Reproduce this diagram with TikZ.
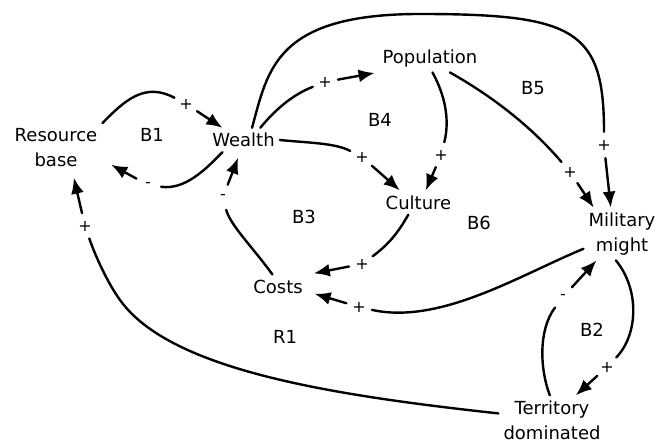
\documentclass[tikz,border=0pt]{standalone}
\usepackage{fontspec}
\setmainfont{DejaVu Sans}
\usetikzlibrary{arrows.meta}
\begin{document}
\begin{tikzpicture}[x=1pt,y=-1pt,
  var/.style={font=\fontsize{18}{25}\selectfont, align=center, inner sep=5pt},
  looplabel/.style={font=\fontsize{18}{25}\selectfont, inner sep=0pt},
  sign/.style={circle, inner sep=0pt, minimum size=26pt, font=\fontsize{16}{16}\selectfont},
  link/.style={line width=2.4pt, line cap=round},
  arr/.style={link, -{Latex[length=16pt,width=13pt]}}
]
\useasboundingbox (0,0) rectangle (655,443);

% variables
\node[var] (rb)   at (56,147.5)  {Resource\\base};
\node[var] (w)    at (243.5,140) {Wealth};
\node[var] (pop)  at (430,58.5)  {Population};
\node[var] (cul)  at (418.5,202.5) {Culture};
\node[var] (mil)  at (622,234)   {Military\\might};
\node[var] (cost) at (278,286.5) {Costs};
\node[var] (ter)  at (552,420)   {Territory\\dominated};

% loop labels
\node[looplabel] (b1) at (152,135) {B1};
\node[looplabel] (b4) at (380,120) {B4};
\node[looplabel] (b5) at (533,88)  {B5};
\node[looplabel] (b3) at (304,217) {B3};
\node[looplabel] (b6) at (479,223) {B6};
\node[looplabel] (r1) at (285,337) {R1};
\node[looplabel] (b2) at (592,330) {B2};

% polarity signs
\node[sign] (s1)  at (186,104) {+};
\node[sign] (s2)  at (148,185) {-};
\node[sign] (s3)  at (223,197) {-};
\node[sign] (s4)  at (325,82)  {+};
\node[sign] (s5)  at (604,145) {+};
\node[sign] (s6)  at (362,157) {+};
\node[sign] (s7)  at (441,155) {+};
\node[sign] (s8)  at (570,172) {+};
\node[sign] (s9)  at (362,264) {+};
\node[sign] (s10) at (359,307) {+};
\node[sign] (s11) at (607,367) {+};
\node[sign] (s12) at (563,297) {-};
\node[sign] (s13) at (85,226)  {+};

% Resource base -> Wealth
\draw[link] (rb.north east) .. controls (125,100) and (145,82) .. (s1);
\draw[arr] (s1) -- (w.150);
% Wealth -> Resource base
\draw[link] (w.210) .. controls (205,170) and (185,190) .. (s2);
\draw[arr, shorten >=10pt] (s2) -- (rb.-15);
% Costs -> Wealth
\draw[link] (cost.115) .. controls (255,250) and (230,225) .. (s3);
\draw[arr, shorten >=6pt] (s3) -- (w.255);
% Wealth -> Population
\draw[link] (w.36) .. controls (275,110) and (292,95) .. (s4);
\draw[arr, shorten >=3pt] (s4) -- (pop.south west);
% Wealth -> Military might (outer arc)
\draw[link] (w.55) .. controls (268,70) and (275,14) .. (420,14)
            .. controls (575,14) and (604,30) .. (s5);
\draw[arr] (s5) -- (mil.113);
% Wealth -> Culture
\draw[link] (w.east) .. controls (310,143) and (335,143) .. (s6);
\draw[arr] (s6) -- (cul.147);
% Population -> Culture
\draw[link] (pop.-80) .. controls (445,95) and (450,120) .. (s7);
\draw[arr] (s7) -- (cul.59);
% Population -> Military might
\draw[link] (pop.-35) .. controls (490,95) and (530,125) .. (s8);
\draw[arr] (s8) -- (mil.137);
% Culture -> Costs
\draw[link] (cul.230) .. controls (398,233) and (388,245) .. (s9);
\draw[arr, shorten >=6pt] (s9) -- (cost.north east);
% Military might -> Costs
\draw[link] (mil.201) .. controls (520,275) and (440,325) .. (s10);
\draw[arr, shorten >=7pt] (s10) -- (cost.-10);
% Military might -> Territory dominated
\draw[link] (mil.-103) .. controls (640,290) and (638,335) .. (s11);
\draw[arr] (s11) -- (ter.46);
% Territory dominated -> Military might
\draw[link] (ter.95) .. controls (540,370) and (538,330) .. (s12);
\draw[arr] (s12) -- (mil.226);
% Territory dominated -> Resource base
\draw[link] (ter.173) .. controls (330,395) and (170,370) .. (120,300)
            .. controls (107,282) and (95,255) .. (s13);
\draw[arr, shorten >=6pt] (s13) -- (rb.-56);
\end{tikzpicture}
\end{document}
